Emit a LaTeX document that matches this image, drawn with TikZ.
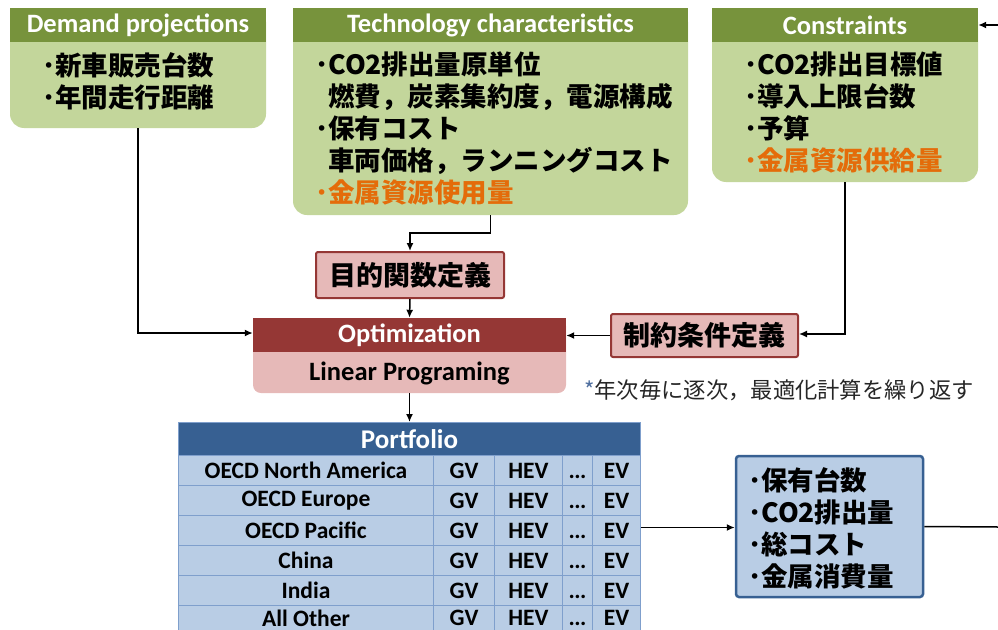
\documentclass[tikz,border=0pt]{standalone}
\usepackage{fontspec}
\setmainfont{Carlito}
\newfontfamily\cjk{Noto Sans CJK JP}
\usetikzlibrary{arrows.meta}
\definecolor{colive}{HTML}{77933C}
\definecolor{cgreen}{HTML}{C3D69B}
\definecolor{corange}{HTML}{E46C0A}
\definecolor{cdred}{HTML}{953735}
\definecolor{cpink}{HTML}{E6B9B8}
\definecolor{cdblue}{HTML}{376092}
\definecolor{clblue}{HTML}{B9CDE5}
\definecolor{cgrid}{HTML}{7F9FCC}
\definecolor{cnote}{HTML}{262626}
\definecolor{cast}{HTML}{4F6F9F}
\tikzset{
  gbody/.style={fill=cgreen, rounded corners=14pt, inner sep=0pt},
  ghead/.style={fill=colive, text=white, inner sep=0pt, minimum height=34pt, font=\bfseries\fontsize{26.5}{30}\selectfont},
  jtext/.style={align=left, inner sep=0pt, font=\cjk\bfseries\fontsize{26.5}{32}\selectfont},
  pbox/.style={fill=cpink, draw=cdred, line width=2pt, rounded corners=2pt, inner sep=0pt, font=\cjk\bfseries\fontsize{27}{30}\selectfont},
  cell/.style={draw=cgrid, line width=1pt, fill=clblue, anchor=north west, inner sep=0pt, font=\bfseries\fontsize{23.5}{26}\selectfont},
  arr/.style={line width=1.5pt, -{Latex[length=8pt,width=7pt]}},
  ln/.style={line width=1.5pt}
}
\newcommand{\tdots}{\vphantom{EV}.\kern-0.5pt.\kern-0.5pt.}
\begin{document}
\begin{tikzpicture}[x=1pt,y=1pt]
\useasboundingbox (0,0) rectangle (998,-629);
% Demand projections
\node[gbody, minimum width=256pt, minimum height=120pt] (demand) at (138,-68) {};
\node[ghead, minimum width=256pt, anchor=north] (demandh) at (demand.north) {Demand projections};
\node[jtext, anchor=west] (demandt) at (42,-81) {･新車販売台数\\･年間走行距離};
% Technology characteristics
\node[gbody, minimum width=395pt, minimum height=207pt] (tech) at (490.5,-111.5) {};
\node[ghead, minimum width=395pt, anchor=north] (techh) at (tech.north) {Technology characteristics};
\node[jtext, anchor=west] (techt) at (315,-128.5) {･CO2排出量原単位\\\phantom{･}燃費，炭素集約度，電源構成\\･保有コスト\\\phantom{･}車両価格，ランニングコスト\\\textcolor{corange}{･金属資源使用量}};
% Constraints
\node[gbody, minimum width=266pt, minimum height=174pt] (cons) at (845,-95) {};
\node[ghead, minimum width=266pt, anchor=north] (consh) at (cons.north) {Constraints};
\node[jtext, anchor=west] (const) at (744,-112.5) {･CO2排出目標値\\･導入上限台数\\･予算\\\textcolor{corange}{･金属資源供給量}};
% objective definition
\node[pbox, minimum width=188pt, minimum height=46pt] (obj) at (410,-275) {目的関数定義};
% constraint definition
\node[pbox, minimum width=187pt, minimum height=43pt] (seido) at (704.5,-335.5) {制約条件定義};
% Optimization
\node[fill=cpink, rounded corners=8pt, minimum width=313pt, minimum height=75pt, inner sep=0pt] (opt) at (409.5,-355.5) {};
\node[fill=cdred, text=white, minimum width=313pt, minimum height=34pt, inner sep=0pt, anchor=north, font=\bfseries\fontsize{26.5}{30}\selectfont] (opth) at (opt.north) {Optimization};
\node[inner sep=0pt, font=\bfseries\fontsize{26.5}{30}\selectfont] (optt) at (409.5,-373) {Linear Programing};
% note
\node[inner sep=0pt, anchor=west, text=cnote, font=\cjk\fontsize{22.3}{26}\selectfont] (note) at (584,-390) {\textcolor{cast}{*}年次毎に逐次，最適化計算を繰り返す};
% Portfolio table
\node[fill=cdblue, draw=cgrid, line width=1pt, anchor=north west, minimum width=462pt, minimum height=33pt, inner sep=0pt, text=white, font=\bfseries\fontsize{27}{30}\selectfont] (port) at (178,-422) {Portfolio};
\foreach \name [count=\i] in {OECD North America, OECD Europe, OECD Pacific, China, India, All Other} {
  \pgfmathsetmacro\rh{\i==6 ? 25 : 30}
  \node[cell, minimum height=\rh pt, minimum width=255pt] (r\i) at (178,{-455-30*(\i-1)}) {\name};
  \node[cell, minimum height=\rh pt, minimum width=61pt] (gv\i) at (433,{-455-30*(\i-1)}) {GV};
  \node[cell, minimum height=\rh pt, minimum width=68pt] (hev\i) at (494,{-455-30*(\i-1)}) {HEV};
  \node[cell, minimum height=\rh pt, minimum width=30pt] (dots\i) at (562,{-455-30*(\i-1)}) {\tdots};
  \node[cell, minimum height=\rh pt, minimum width=48pt] (ev\i) at (592,{-455-30*(\i-1)}) {EV};
}
% result box
\node[fill=clblue, draw=cdblue, line width=2.5pt, rounded corners=3pt, minimum width=187pt, minimum height=141pt, inner sep=0pt] (res) at (829.5,-526.5) {};
\node[jtext, anchor=west] (rest) at (748,-528) {･保有台数\\･CO2排出量\\･総コスト\\･金属消費量};
% connectors
\coordinate (inR) at (998,-25);
\coordinate (outR) at (998,-527);
\draw[arr] (inR) -- (consh.east);
\draw[arr] (demand.south) |- ([yshift=2pt]opth.west);
\draw[arr] (tech.south) -- ++(0,-18) -| (obj.north);
\draw[arr] (obj.south) -- (opth.north);
\draw[arr] (opt.south) -- (port.north);
\draw[arr] (cons.south) |- ([yshift=1.5pt]seido.east);
\draw[arr] (seido.west) -- (seido.west -| opt.east);
\draw[arr] ([yshift=3pt]ev3.east) -- ([yshift=3pt]ev3.east -| res.west);
\draw[ln] (res.east) -- (outR);
\end{tikzpicture}
\end{document}
